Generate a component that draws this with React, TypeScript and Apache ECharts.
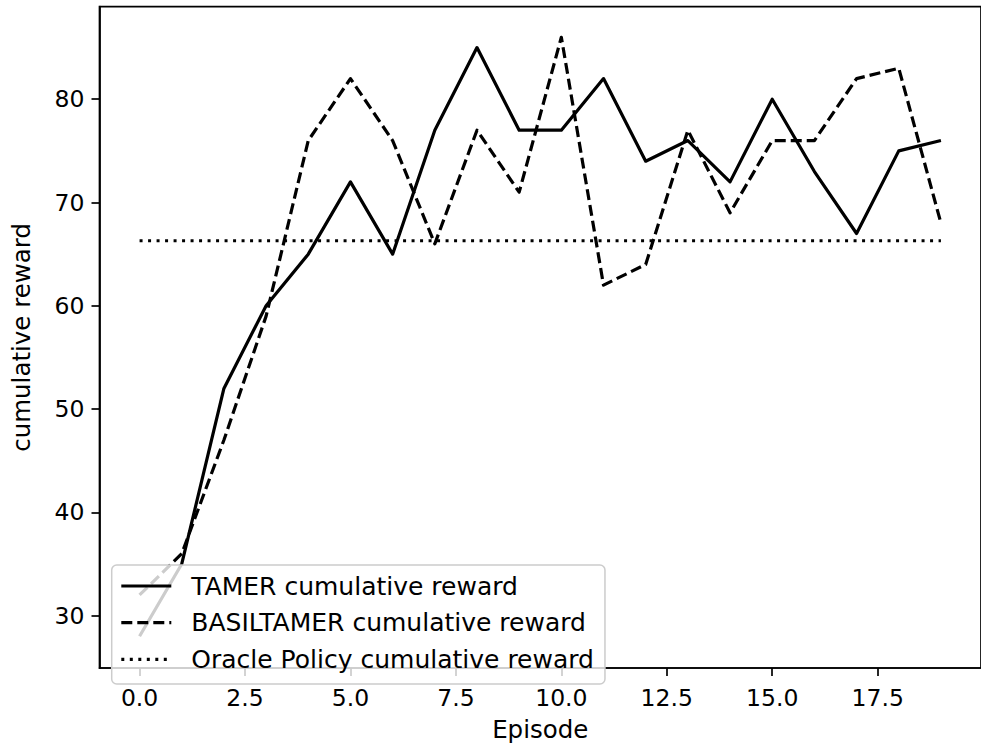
import React, { useEffect, useRef } from "react";
import * as echarts from "echarts";

// Episode index on the x axis
const EPISODES = [0, 1, 2, 3, 4, 5, 6, 7, 8, 9, 10, 11, 12, 13, 14, 15, 16, 17, 18, 19];

// Cumulative reward per episode
const TAMER_REWARD = [28, 35, 52, 60, 65, 72, 65, 77, 85, 77, 77, 82, 74, 76, 72, 80, 73, 67, 75, 76];
const BASILTAMER_REWARD = [32, 36, 47, 59, 76, 82, 76, 66, 77, 71, 86, 62, 64, 77, 69, 76, 76, 82, 83, 68];
const ORACLE_REWARD = 66.3;

const SERIES_NAMES = [
  "TAMER cumulative reward",
  "BASILTAMER cumulative reward",
  "Oracle Policy cumulative reward",
];

const X_TICKS = [0, 2.5, 5, 7.5, 10, 12.5, 15, 17.5];
const Y_TICKS = [30, 40, 50, 60, 70, 80];

const FONT = "DejaVu Sans";
const INK = "#000000";
const LINE_WIDTH = 3.2;

export default function App() {
  const ref = useRef<HTMLDivElement>(null);

  useEffect(() => {
    if (!ref.current) return;
    const chart = echarts.init(ref.current, null, { renderer: "svg" });

    const lineBase = {
      type: "line" as const,
      symbol: "none",
      showSymbol: false,
      silent: true,
    };

    chart.setOption({
      animation: false,
      backgroundColor: "#ffffff",
      grid: {
        left: 99.5,
        top: 6.7,
        bottom: 77,
        right: -9.9,
        show: true,
        borderColor: INK,
        borderWidth: 1.7,
        backgroundColor: "transparent",
      },
      xAxis: {
        type: "value",
        min: -0.95,
        max: 19.95,
        name: "Episode",
        nameLocation: "middle",
        nameGap: 49,
        nameTextStyle: { fontFamily: FONT, fontSize: 24.5, color: INK },
        axisLine: { show: true, onZero: false, lineStyle: { color: INK, width: 1.7 } },
        axisTick: {
          show: true,
          inside: false,
          length: 8,
          customValues: X_TICKS,
          lineStyle: { color: INK, width: 1.7 },
        },
        axisLabel: {
          customValues: X_TICKS,
          formatter: (v: number) => v.toFixed(1),
          fontFamily: FONT,
          fontSize: 23.5,
          color: INK,
          margin: 18,
        },
        splitLine: { show: false },
      },
      yAxis: {
        type: "value",
        min: 24.93,
        max: 88.96,
        name: "cumulative reward",
        nameLocation: "middle",
        nameGap: 66,
        nameRotate: 90,
        nameTextStyle: { fontFamily: FONT, fontSize: 24.5, color: INK },
        axisLine: { show: true, onZero: false, lineStyle: { color: INK, width: 1.7 } },
        axisTick: {
          show: true,
          inside: false,
          length: 8,
          customValues: Y_TICKS,
          lineStyle: { color: INK, width: 1.7 },
        },
        axisLabel: {
          customValues: Y_TICKS,
          fontFamily: FONT,
          fontSize: 23.5,
          color: INK,
          margin: 15,
        },
        splitLine: { show: false },
      },
      legend: {
        orient: "vertical",
        left: 111.7,
        top: 565,
        data: SERIES_NAMES,
        itemWidth: 50,
        itemHeight: 14,
        itemGap: 10.7,
        padding: [8, 11, 11.6, 8],
        backgroundColor: "rgba(255,255,255,0.8)",
        borderColor: "#cccccc",
        borderWidth: 1.5,
        borderRadius: 5,
        selectedMode: false,
        itemStyle: { color: "transparent", borderWidth: 0, opacity: 0 },
        lineStyle: { width: LINE_WIDTH },
        textStyle: {
          fontFamily: FONT,
          fontSize: 25,
          color: INK,
          lineHeight: 26,
          padding: [0, 0, 0, 15],
        },
      },
      series: [
        {
          ...lineBase,
          name: SERIES_NAMES[0],
          data: EPISODES.map((e, i) => [e, TAMER_REWARD[i]]),
          lineStyle: { color: INK, width: LINE_WIDTH, type: "solid", join: "round" },
          itemStyle: { color: INK },
        },
        {
          ...lineBase,
          name: SERIES_NAMES[1],
          data: EPISODES.map((e, i) => [e, BASILTAMER_REWARD[i]]),
          lineStyle: { color: INK, width: LINE_WIDTH, type: [11, 5], join: "round" },
          itemStyle: { color: INK },
        },
        {
          ...lineBase,
          name: SERIES_NAMES[2],
          data: [
            [EPISODES[0], ORACLE_REWARD],
            [EPISODES[EPISODES.length - 1], ORACLE_REWARD],
          ],
          lineStyle: { color: INK, width: LINE_WIDTH, type: [3, 5.5] },
          itemStyle: { color: INK },
        },
      ],
    });

    return () => {
      chart.dispose();
    };
  }, []);

  return (
    <div
      ref={ref}
      style={{ position: "fixed", left: 0, top: 0, width: 981, height: 747 }}
    />
  );
}
